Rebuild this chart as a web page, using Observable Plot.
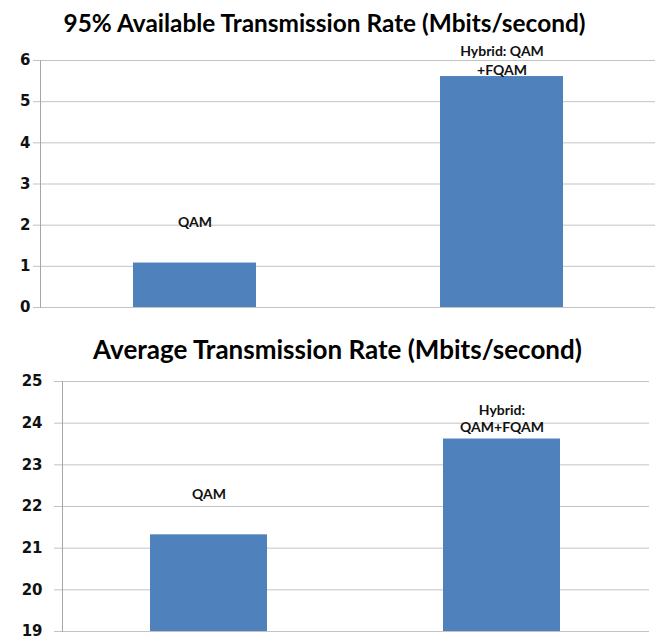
<!DOCTYPE html>
<html>
<head>
<meta charset="utf-8">
<script src="https://cdn.jsdelivr.net/npm/d3@7"></script>
<script src="https://cdn.jsdelivr.net/npm/@observablehq/plot@0.6"></script>
<style>
  html, body { margin: 0; padding: 0; background: #fff; overflow: hidden; }
  #wrap { position: relative; width: 655px; height: 637px; overflow: hidden; }
  .title { position: absolute; width: 655px; text-align: center;
           font-family: Lato, "Open Sans", sans-serif; font-weight: 700; color: #000; white-space: nowrap; }
  #t1 { top: 4px; left: -3px; height: 38px; line-height: 38px; font-size: 24.4px; }
  #t2 { top: 330px; left: 10px; height: 38px; line-height: 38px; font-size: 26px; }
  #c1 { position: absolute; top: 42px; left: 0; }
  #c2 { position: absolute; top: 368px; left: 0; }
</style>
</head>
<body>
<div id="wrap">
  <div class="title" id="t1"></div>
  <div id="c1"></div>
  <div class="title" id="t2"></div>
  <div id="c2"></div>
</div>
<script>
// ---- data ----
const categories = ["QAM", "Hybrid"];

const title1 = "95% Available Transmission Rate (Mbits/second)";
const labels1 = ["QAM", "Hybrid: QAM\n+FQAM"];
const values1 = [1.08, 5.61];
const ticks1 = [0, 1, 2, 3, 4, 5, 6];

const title2 = "Average Transmission Rate (Mbits/second)";
const labels2 = ["QAM", "Hybrid:\nQAM+FQAM"];
const values2 = [21.32, 23.62];
const ticks2 = [19, 20, 21, 22, 23, 24, 25];

// ---- styles ----
const BAR = "#4f81bd";
const GRID = "#c3c3c3";
const AXIS = "#a6a6a6";
const tickFont = { fontFamily: "DejaVu Sans", fontSize: 15, fontWeight: "bold" };
const labelFont = { fontFamily: "Lato", fontSize: 14, fontWeight: "bold", fill: "#111" };

document.getElementById("t1").textContent = title1;
document.getElementById("t2").textContent = title2;

const rows1 = categories.map((c, i) => ({ cat: c, value: values1[i], label: labels1[i] }));
const rows2 = categories.map((c, i) => ({ cat: c, value: values2[i], label: labels2[i] }));

const chart1 = Plot.plot({
  width: 655,
  height: 280,
  marginTop: 18,
  marginBottom: 15,
  marginLeft: 40,
  marginRight: 0,
  style: { background: "transparent", overflow: "visible" },
  x: { type: "band", domain: categories, paddingInner: 0.6, paddingOuter: 0.3, axis: null },
  y: { domain: [0, 6], axis: null },
  marks: [
    Plot.gridY(ticks1, { stroke: GRID, strokeOpacity: 1 }),
    Plot.axisY(ticks1, { label: null, tickSize: 7, tickPadding: 3, stroke: GRID, strokeOpacity: 1, fill: "#111", ...tickFont, tickFormat: d => String(d) }),
    Plot.frame({ anchor: "left", stroke: AXIS }),
    Plot.barY(rows1, { x: "cat", y: "value", fill: BAR }),
    Plot.text(rows1.filter((d, i) => i === 0), { x: "cat", y: "value", text: "label", lineAnchor: "bottom", dy: -36, ...labelFont }),
    Plot.text(rows1.filter((d, i) => i === 1), { x: "cat", y: "value", text: "label", lineAnchor: "bottom", dy: -2, lineHeight: 1.3, ...labelFont })
  ]
});
document.getElementById("c1").append(chart1);

const chart2 = Plot.plot({
  width: 655,
  height: 280,
  marginTop: 13,
  marginBottom: 17,
  marginLeft: 62,
  marginRight: 6,
  style: { background: "transparent", overflow: "visible" },
  x: { type: "band", domain: categories, paddingInner: 0.6, paddingOuter: 0.3, axis: null },
  y: { domain: [19, 25], axis: null },
  marks: [
    Plot.gridY(ticks2, { stroke: GRID, strokeOpacity: 1 }),
    Plot.axisY(ticks2, { label: null, tickSize: 8, tickPadding: 12, stroke: GRID, strokeOpacity: 1, fill: "#111", ...tickFont, tickFormat: d => String(d) }),
    Plot.frame({ anchor: "left", stroke: AXIS }),
    Plot.barY(rows2, { x: "cat", y1: ticks2[0], y2: "value", fill: BAR }),
    Plot.text(rows2.filter((d, i) => i === 0), { x: "cat", y: "value", text: "label", lineAnchor: "bottom", dy: -36, ...labelFont }),
    Plot.text(rows2.filter((d, i) => i === 1), { x: "cat", y: "value", text: "label", lineAnchor: "bottom", dy: -7, lineHeight: 1.25, ...labelFont })
  ]
});
document.getElementById("c2").append(chart2);
</script>
</body>
</html>
